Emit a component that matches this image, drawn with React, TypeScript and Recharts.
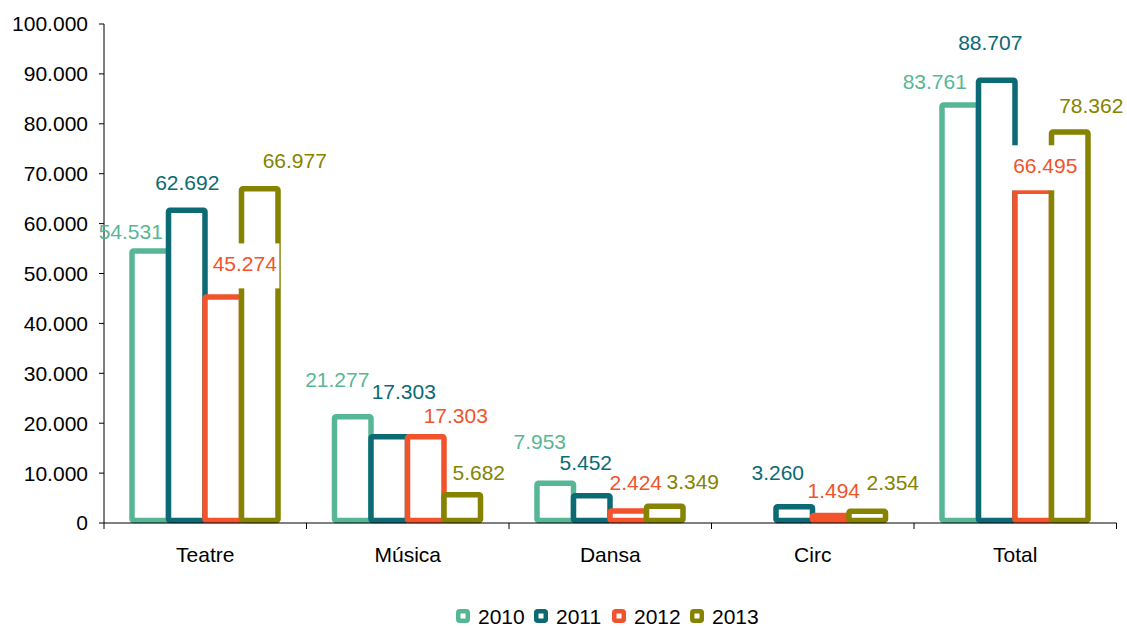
import React from 'react';
import { BarChart, Bar, XAxis, YAxis, LabelList, Legend } from 'recharts';

const categories = ['Teatre', 'Música', 'Dansa', 'Circ', 'Total'];
const seriesNames = ['2010', '2011', '2012', '2013'];
const values2010 = [54531, 21277, 7953, 0, 83761];
const values2011 = [62692, 17303, 5452, 3260, 88707];
const values2012 = [45274, 17303, 2424, 1494, 66495];
const values2013 = [66977, 5682, 3349, 2354, 78362];
const yTicks = [0, 10000, 20000, 30000, 40000, 50000, 60000, 70000, 80000, 90000, 100000];

const COLORS = ['#57B795', '#0B6A74', '#F2532B', '#858300'];
const FONT = '"Liberation Sans", Arial, sans-serif';
const FS = 21;
const STROKE = 5.5;

// label placement (offset from bar-top centre) and whether the label has a white box
const LABEL_NUDGES: number[][][] = [
  [[-19.5, -19, 0], [-15.5, -36.9, 0], [-15.5, -42.3, 0], [0, 0, 0], [-25.5, -23.3, 0]],
  [[0.5, -27.4, 0], [14.5, -44.7, 0], [-6, -32.8, 0], [-16.5, -34.7, 0], [-6.5, -37.6, 0]],
  [[21.5, -33.2, 1], [30, -21.2, 0], [7.5, -28.9, 0], [3, -25.5, 0], [12, -25.4, 1]],
  [[35, -28, 0], [16.5, -21.7, 0], [28, -24.3, 0], [25.5, -28.3, 0], [21.5, -26.2, 0]],
];

const seriesValues = [values2010, values2011, values2012, values2013];
const data = categories.map((cat, i) => {
  const row: any = { cat };
  seriesNames.forEach((s, k) => {
    row['y' + s] = seriesValues[k][i];
  });
  return row;
});

const fmt = (v: number) => String(v).replace(/\B(?=(\d{3})+(?!\d))/g, '.');
const textWidth = (t: string) =>
  t.split('').reduce((w, ch) => w + (ch === '.' ? 0.278 : 0.556) * FS, 0);

const makeShape = (s: number) => (props: any) => {
  const { x, y, width, height } = props;
  if (!height || height <= 3) return <g />;
  return (
    <rect
      x={x}
      y={y}
      width={width}
      height={height - 2.5}
      rx={1.5}
      fill="#fff"
      stroke={COLORS[s]}
      strokeWidth={STROKE}
      strokeLinejoin="round"
    />
  );
};

const emptyShape = () => <g />;

const makeLabel = (s: number) => (props: any) => {
  const vb = props.viewBox || {};
  const x = Number(vb.x ?? props.x);
  const y = Number(vb.y ?? props.y);
  const width = Number(vb.width ?? props.width);
  const value = Number(props.value);
  const index = Number(props.index);
  if (!value || isNaN(index)) return null;
  const nudge = LABEL_NUDGES[s][index] || [0, -25, 0];
  const cx = x + width / 2 + nudge[0];
  const cy = y + nudge[1];
  const text = fmt(value);
  const w = textWidth(text);
  return (
    <g>
      {nudge[2] ? (
        <rect x={cx - w / 2 - 2.5} y={cy - 20.5} width={w + 5} height={45} fill="#fff" />
      ) : null}
      <text x={cx} y={cy + 7.5} textAnchor="middle" fill={COLORS[s]} fontSize={FS} fontFamily={FONT}>
        {text}
      </text>
    </g>
  );
};

const XTick = (props: any) => {
  const { x, y, payload, index } = props;
  const n = categories.length;
  const bandW = Number(props.width) > 0 ? Number(props.width) / n : (1127 - 104 - 10.5) / n;
  const half = bandW / 2;
  return (
    <g>
      <line x1={x - half} x2={x - half} y1={y} y2={y + 6} stroke="#000" strokeWidth={1} />
      {index === n - 1 ? (
        <line x1={x + half} x2={x + half} y1={y} y2={y + 6} stroke="#000" strokeWidth={1} />
      ) : null}
      <text x={x} y={y + 39} textAnchor="middle" fill="#000" fontSize={FS} fontFamily={FONT}>
        {payload.value}
      </text>
    </g>
  );
};

const LegendContent = () => (
  <svg width={330} height={30} style={{ display: 'block', overflow: 'visible' }}>
    {seriesNames.map((name, i) => {
      const x0 = 6 + i * 78;
      return (
        <g key={name}>
          <rect
            x={x0 + 2.25}
            y={13.25}
            width={9.5}
            height={9.5}
            rx={1.5}
            fill="#fff"
            stroke={COLORS[i]}
            strokeWidth={4.5}
          />
          <text x={x0 + 22} y={26} fill="#000" fontSize={FS} fontFamily={FONT}>
            {name}
          </text>
        </g>
      );
    })}
  </svg>
);

export default function App() {
  return (
    <div style={{ position: 'absolute', left: 0, top: 0, width: 1127, height: 628, background: '#fff' }}>
      <BarChart
        width={1127}
        height={628}
        data={data}
        margin={{ top: 24, right: 10.5, left: 0, bottom: 45 }}
        barGap={0}
        barSize={36.5}
      >
        {seriesNames.map((s, k) => (
          <Bar
            key={'b' + s}
            dataKey={'y' + s}
            name={s}
            xAxisId="main"
            fill="#fff"
            stroke={COLORS[k]}
            shape={makeShape(k)}
            isAnimationActive={false}
          />
        ))}
        {seriesNames.map((s, k) => (
          <Bar
            key={'l' + s}
            dataKey={'y' + s}
            xAxisId="lbl"
            fill="none"
            legendType="none"
            shape={emptyShape}
            isAnimationActive={false}
          >
            <LabelList dataKey={'y' + s} content={makeLabel(k)} />
          </Bar>
        ))}
        <Legend
          layout="horizontal"
          verticalAlign="middle"
          align="center"
          content={LegendContent}
          wrapperStyle={{ position: 'absolute', top: 598, left: 450, width: 330, height: 30 }}
        />
        <XAxis xAxisId="lbl" dataKey="cat" hide height={0} />
        <XAxis
          xAxisId="main"
          dataKey="cat"
          height={60}
          interval={0}
          tickSize={0}
          tickMargin={0}
          tickLine={false}
          axisLine={{ stroke: '#000', strokeWidth: 1 }}
          tick={<XTick />}
        />
        <YAxis
          width={104}
          domain={[0, 100000]}
          ticks={yTicks}
          interval={0}
          tickFormatter={fmt}
          tickSize={5}
          tickMargin={11}
          axisLine={{ stroke: '#000', strokeWidth: 1 }}
          tickLine={{ stroke: '#000', strokeWidth: 1 }}
          tick={{ fill: '#000', fontSize: FS, fontFamily: FONT }}
        />
      </BarChart>
    </div>
  );
}
